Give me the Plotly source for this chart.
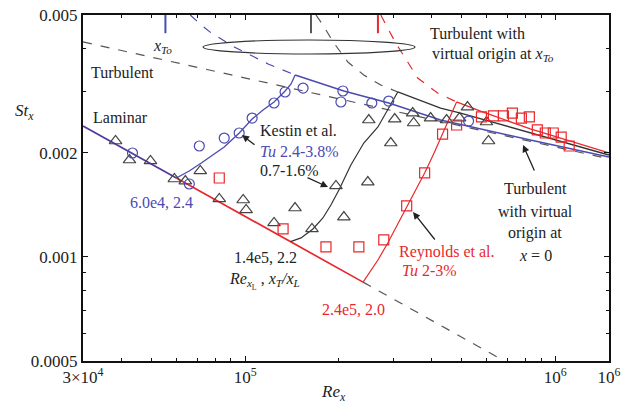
import numpy as np
import plotly.graph_objects as go

# ---------------- data ----------------
# Laminar correlation line (St vs Re_x)
re_laminar = [3.0e4, 6.0e4, 1.4e5, 2.4e5, 6.85e5]
st_laminar = [0.00239, 0.00169, 0.001106, 0.000845, 0.0005]

# Turbulent correlation with virtual origin at x = 0
re_turb0 = [3.0e4, 1.49e6]
st_turb0 = [0.00418, 0.00192]

# Kestin et al. (blue), Tu 2.4-3.8 %
re_kestin_trans = [6.0e4, 6.60e4, 7.22e4, 7.89e4, 8.56e4, 9.57e4, 1.053e5, 1.142e5, 1.239e5, 1.345e5, 1.406e5, 1.449e5]
st_kestin_trans = [0.00169, 0.001771, 0.001868, 0.001969, 0.002077, 0.00228, 0.002502, 0.002657, 0.002803, 0.003016, 0.003159, 0.003355]
re_kestin_turb = [1.449e5, 2.081e5, 2.904e5, 4.267e5, 8.31e5, 1.49e6]
st_kestin_turb = [0.003355, 0.003016, 0.002784, 0.002486, 0.002176, 0.001943]
re_kestin_virt = [6.654e4, 7.22e4, 7.776e4, 9.218e4, 1.186e5, 1.449e5]
st_kestin_virt = [0.005, 0.004677, 0.004436, 0.004042, 0.00361, 0.003355]
re_kestin_pts = [4.331e4, 6.604e4, 7.114e4, 8.56e4, 9.566e4, 1.053e5, 1.239e5, 1.345e5, 1.537e5,
                 2.066e5, 2.036e5, 2.561e5, 2.904e5, 5.253e5]
st_kestin_pts = [0.001996, 0.001624, 0.002091, 0.002205, 0.00228, 0.002519, 0.002784, 0.002996, 0.003075,
                 0.003016, 0.002803, 0.002784, 0.00282, 0.002469]

# Tu 0.7-1.6 % (black)
re_black_trans = [1.4e5, 1.514e5, 1.654e5, 1.781e5, 1.89e5, 2.006e5, 2.192e5, 2.413e5, 2.68e5, 2.948e5, 3.105e5]
st_black_trans = [0.001106, 0.001134, 0.001204, 0.001295, 0.001412, 0.001561, 0.001843, 0.002133, 0.002373, 0.002765, 0.002996]
re_black_turb = [3.105e5, 4.267e5, 4.95e5, 7.718e5, 1.49e6]
st_black_turb = [0.002996, 0.002692, 0.002604, 0.002327, 0.001969]
re_black_virt = [1.692e5, 1.781e5, 1.933e5, 2.144e5, 2.413e5, 2.737e5, 3.105e5]
st_black_virt = [0.005, 0.004677, 0.00415, 0.003657, 0.003354, 0.003137, 0.002996]
re_black_pts = [3.819e4, 4.236e4, 4.95e4, 5.911e4, 6.413e4, 7.166e4, 8.25e4, 9.853e4, 1.007e5, 1.239e5,
                1.448e5, 1.642e5, 1.962e5, 2.081e5, 2.486e5, 2.948e5, 2.504e5, 3.036e5, 3.469e5, 3.494e5,
                3.963e5, 4.462e5, 4.913e5, 5.212e5, 6.0e5, 6.09e5]
st_black_pts = [0.002162, 0.001905, 0.001893, 0.001679, 0.001656, 0.001771, 0.00147, 0.00146, 0.001366, 0.001253,
                0.001384, 0.001204, 0.001603, 0.001303, 0.001645, 0.002133, 0.002486, 0.002502, 0.002604, 0.002437,
                0.002519, 0.002486, 0.002519, 0.00271, 0.002453, 0.002162]

# Reynolds et al. (red), Tu 2-3 %
re_red_trans = [2.4e5, 2.542e5, 2.68e5, 2.883e5, 3.105e5, 3.318e5, 3.546e5, 3.791e5, 4.053e5, 4.331e5, 4.597e5, 4.806e5]
st_red_trans = [0.000845, 0.00091, 0.000979, 0.001096, 0.001244, 0.001403, 0.001561, 0.001748, 0.001982, 0.002264, 0.002554, 0.002803]
re_red_turb = [4.806e5, 5.738e5, 8.31e5, 1.117e6, 1.49e6]
st_red_turb = [0.002803, 0.002639, 0.002342, 0.002162, 0.001996]
re_red_virt = [2.737e5, 2.904e5, 3.058e5, 3.343e5, 3.6e5, 4.174e5, 4.806e5]
st_red_virt = [0.005, 0.004525, 0.00415, 0.003657, 0.003288, 0.002976, 0.002803]
re_red_pts = [8.25e4, 1.325e5, 1.822e5, 2.326e5, 2.799e5, 3.318e5, 3.791e5, 4.331e5, 4.806e5, 5.781e5,
              6.318e5, 6.805e5, 7.272e5, 7.775e5, 8.249e5, 8.752e5, 9.287e5, 9.853e5, 1.045e6, 1.109e6]
st_red_pts = [0.00169, 0.001204, 0.001068, 0.001068, 0.001119, 0.001403, 0.001748, 0.002264, 0.002405, 0.002537,
              0.002554, 0.002554, 0.002604, 0.002519, 0.002537, 0.002327, 0.00228, 0.00228, 0.002219, 0.002091]

# Virtual-origin markers x_To (blue, black, red)
re_xto = [5.531e4, 1.63e5, 2.68e5]
st_xto_span = [0.005, 0.00443]

# Axis ticks
x_tickvals = [3e4, 1e5, 1e6, 1.49e6]
x_ticktext = ["3×10<sup>4</sup>", "10<sup>5</sup>", "10<sup>6</sup>", "10<sup>6</sup>"]
x_minor = [4e4, 5e4, 6e4, 7e4, 8e4, 9e4, 2e5, 3e5, 4e5, 5e5, 6e5, 7e5, 8e5, 9e5]
y_tickvals = [0.0005, 0.001, 0.002, 0.005]
y_ticktext = ["0.0005", "0.001", "0.002", "0.005"]
y_minor = [0.0006, 0.0007, 0.0008, 0.0009, 0.003, 0.004]

# ---------------- styling ----------------
BLUE = "#4a4ab2"
RED = "#e8282c"
BLACK = "#333333"
GRAY = "#555555"
PURPLE = "#56399c"
FONT = "Liberation Serif, Times New Roman, DejaVu Serif, serif"

W, H = 629, 403
ML, MR, MT, MB = 83, 20, 15, 42
PW, PH = W - ML - MR, H - MT - MB


def px(x):
    return (x - ML) / PW


def py(y):
    return 1 - (y - MT) / PH


fig = go.Figure()


def line(xs, ys, color, width=1.3, dash="solid"):
    fig.add_trace(go.Scatter(x=xs, y=ys, mode="lines", showlegend=False, hoverinfo="skip",
                             line=dict(color=color, width=width, dash=dash)))


def pts(xs, ys, symbol, color, size):
    fig.add_trace(go.Scatter(x=xs, y=ys, mode="markers", showlegend=False, hoverinfo="skip",
                             marker=dict(symbol=symbol, size=size, color=color,
                                         line=dict(color=color, width=1.2))))


# turbulent x=0 origin (dashed)
line(re_turb0, st_turb0, GRAY, 1.2, "dash")
# laminar line pieces
line(re_laminar[3:5], st_laminar[3:5], GRAY, 1.2, "dash")
line(re_laminar[1:4], st_laminar[1:4], RED, 1.7)
line(re_laminar[0:2], st_laminar[0:2], PURPLE, 1.8)

# virtual origin curves (dashed)
line(re_kestin_virt, st_kestin_virt, BLUE, 1.2, "dash")
line(re_black_virt, st_black_virt, GRAY, 1.2, "dash")
line(re_red_virt, st_red_virt, RED, 1.2, "dash")

# transition & turbulent curves
line(re_black_trans, st_black_trans, BLACK, 1.2)
line(re_black_turb, st_black_turb, BLACK, 1.3)
line(re_red_trans, st_red_trans, RED, 1.2)
line(re_red_turb, st_red_turb, RED, 1.3)
line(re_kestin_trans, st_kestin_trans, BLUE, 1.3)
line(re_kestin_turb, st_kestin_turb, BLUE, 1.4)

# x_To markers
line([re_xto[0]] * 2, st_xto_span, BLUE, 2)
line([re_xto[1]] * 2, st_xto_span, GRAY, 2)
line([re_xto[2]] * 2, st_xto_span, RED, 2)

# data points
pts(re_black_pts, st_black_pts, "triangle-up-open", "#444444", 11)
pts(re_red_pts, st_red_pts, "square-open", RED, 10)
pts(re_kestin_pts, st_kestin_pts, "circle-open", BLUE, 10)

annotations = []


def text(x, y, s, color="#222222", size=16, xanchor="left", align="left"):
    annotations.append(dict(x=px(x), y=py(y), xref="paper", yref="paper", text=s, showarrow=False,
                            xanchor=xanchor, yanchor="middle", align=align,
                            font=dict(family=FONT, size=size, color=color)))


def arrow(hx, hy, tx, ty):
    annotations.append(dict(x=px(hx), y=py(hy), xref="paper", yref="paper", text="", showarrow=True,
                            ax=tx - hx, ay=ty - hy, arrowhead=2, arrowsize=1.1, arrowwidth=1.3,
                            arrowcolor="#222222"))


text(162, 46, "<i>x</i><sub><i>To</i></sub>", xanchor="center")
text(89, 72, "Turbulent")
text(91, 118, "Laminar")
text(428, 33, "Turbulent with")
text(430, 54, "virtual origin at <i>x</i><sub><i>To</i></sub>")
text(258, 130, "Kestin et al.")
text(258, 151, "<i>Tu</i> 2.4-3.8%", color=BLUE)
text(258, 170, "0.7-1.6%")
text(128, 202, "6.0e4, 2.4", color=BLUE)
text(232, 257, "1.4e5, 2.2")
text(227, 281, "<i>Re</i><sub><i>x</i><sub>L</sub></sub> , <i>x</i><sub><i>T</i></sub><i>/x</i><sub><i>L</i></sub>")
text(320, 309, "2.4e5, 2.0", color=RED)
text(397, 252, "Reynolds et al.", color=RED)
text(400, 270, "<i>Tu</i> 2-3%", color=RED)
text(535, 188, "Turbulent", xanchor="center")
text(535, 211, "with virtual", xanchor="center")
text(535, 233, "origin at", xanchor="center")
text(535, 255, "<i>x</i> = 0", xanchor="center")
text(24, 112, "<i>St</i><sub><i>x</i></sub>", size=17, xanchor="center")
text(333, 393, "<i>Re</i><sub><i>x</i></sub>", size=17, xanchor="center")

arrow(242, 135, 256, 146)
arrow(328, 187, 306, 177)
arrow(413, 212, 436, 241)
arrow(523, 145, 535, 172)

shapes = [dict(type="circle", xref="paper", yref="paper", x0=px(203), x1=px(415), y0=py(54), y1=py(40),
               line=dict(color="#333333", width=1.2))]

axis_common = dict(type="log", showgrid=False, zeroline=False, showline=True, linecolor="#111111",
                   linewidth=2, mirror="ticks", ticks="inside", ticklen=5, tickwidth=1.2, tickcolor="#111111",
                   automargin=False,
                   tickfont=dict(family=FONT, size=17, color="#222222"))

fig.update_layout(
    width=W, height=H,
    margin=dict(l=ML, r=MR, t=MT, b=MB, autoexpand=False),
    paper_bgcolor="white", plot_bgcolor="white",
    font=dict(family=FONT),
    xaxis=dict(range=[np.log10(min(x_tickvals)) - 1e-4, np.log10(max(x_tickvals)) + 1e-4],
               tickvals=x_tickvals, ticktext=x_ticktext,
               minor=dict(tickvals=x_minor, ticks="inside", ticklen=3, tickcolor="#111111", showgrid=False),
               **axis_common),
    yaxis=dict(range=[np.log10(min(y_tickvals)) - 1e-4, np.log10(max(y_tickvals)) + 1e-4],
               tickvals=y_tickvals, ticktext=y_ticktext,
               minor=dict(tickvals=y_minor, ticks="inside", ticklen=3, tickcolor="#111111", showgrid=False),
               **axis_common),
    annotations=annotations,
    shapes=shapes,
    showlegend=False,
)

fig.write_html("out.html", config={"displayModeBar": False},
               post_script="document.body.style.margin='0px';document.body.style.padding='0px';")
